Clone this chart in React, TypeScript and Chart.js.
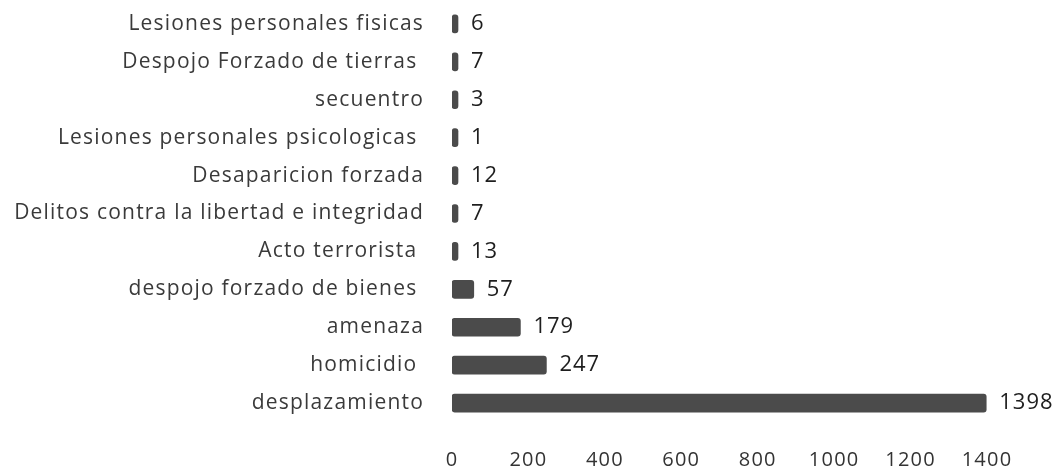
import React, { useEffect, useRef } from "react";
import { Chart, registerables } from "chart.js";

Chart.register(...registerables);

const categories = [
  "Lesiones personales fisicas",
  "Despojo Forzado de tierras ",
  "secuentro",
  "Lesiones personales psicologicas ",
  "Desaparicion forzada",
  "Delitos contra la libertad e integridad",
  "Acto terrorista ",
  "despojo forzado de bienes ",
  "amenaza",
  "homicidio ",
  "desplazamiento",
];
const values = [6, 7, 3, 1, 12, 7, 13, 57, 179, 247, 1398];
const xTicks = [0, 200, 400, 600, 800, 1000, 1200, 1400];

const SP = "1.2px";
const spacing = {
  id: "spacing",
  beforeUpdate(chart: any) {
    chart.ctx.letterSpacing = SP;
  },
  beforeLayout(chart: any) {
    chart.ctx.letterSpacing = SP;
  },
  beforeDraw(chart: any) {
    chart.ctx.letterSpacing = SP;
  },
};

const valueLabels = {
  id: "valueLabels",
  afterDatasetsDraw(chart: any) {
    const ctx = chart.ctx;
    const meta = chart.getDatasetMeta(0);
    ctx.save();
    ctx.letterSpacing = "1px";
    ctx.font = "22px 'Open Sans'";
    ctx.fillStyle = "#1e1e1e";
    ctx.textAlign = "left";
    ctx.textBaseline = "middle";
    meta.data.forEach((bar: any, i: number) => {
      ctx.fillText(String(values[i]), bar.x + 13, bar.y);
    });
    ctx.restore();
  },
};

export default function App() {
  const ref = useRef<HTMLCanvasElement>(null);
  useEffect(() => {
    const chart = new Chart(ref.current!, {
      type: "bar",
      data: {
        labels: categories,
        datasets: [
          {
            data: values,
            backgroundColor: "#4b4b4b",
            borderRadius: 3,
            borderSkipped: false,
            barThickness: 18,
            minBarLength: 6,
          },
        ],
      },
      options: {
        indexAxis: "y",
        animation: false,
        responsive: false,
        layout: { padding: { top: 5, right: 77, left: 0, bottom: 0 } },
        plugins: { legend: { display: false }, tooltip: { enabled: false } },
        scales: {
          x: {
            min: 0,
            max: 1400,
            afterBuildTicks: (s: any) => {
              s.ticks = xTicks.map((v) => ({ value: v }));
            },
            afterFit: (s: any) => {
              s.height = 46;
              s.paddingLeft = 0;
              s.paddingRight = 0;
              s.paddingTop = 0;
              s.paddingBottom = 0;
            },
            grid: { display: false, drawTicks: false },
            border: { display: false },
            ticks: {
              padding: 26,
              color: "#333",
              callback: (v: any) => String(v),
              font: { family: "'Open Sans'", size: 20 },
            },
          },
          y: {
            afterFit: (s: any) => {
              s.width = 452;
              s.paddingLeft = 0;
              s.paddingRight = 0;
              s.paddingTop = 0;
              s.paddingBottom = 0;
            },
            grid: { display: false, drawTicks: false },
            border: { display: false },
            ticks: {
              padding: 28,
              color: "#3a3a3a",
              font: { family: "'Open Sans'", size: 21 },
            },
          },
        },
      },
      plugins: [spacing, valueLabels],
    });
    return () => chart.destroy();
  }, []);
  return (
    <div style={{ position: "fixed", left: 0, top: 0, width: 1064, height: 468, background: "#fff" }}>
      <canvas ref={ref} width={1064} height={468} />
    </div>
  );
}
